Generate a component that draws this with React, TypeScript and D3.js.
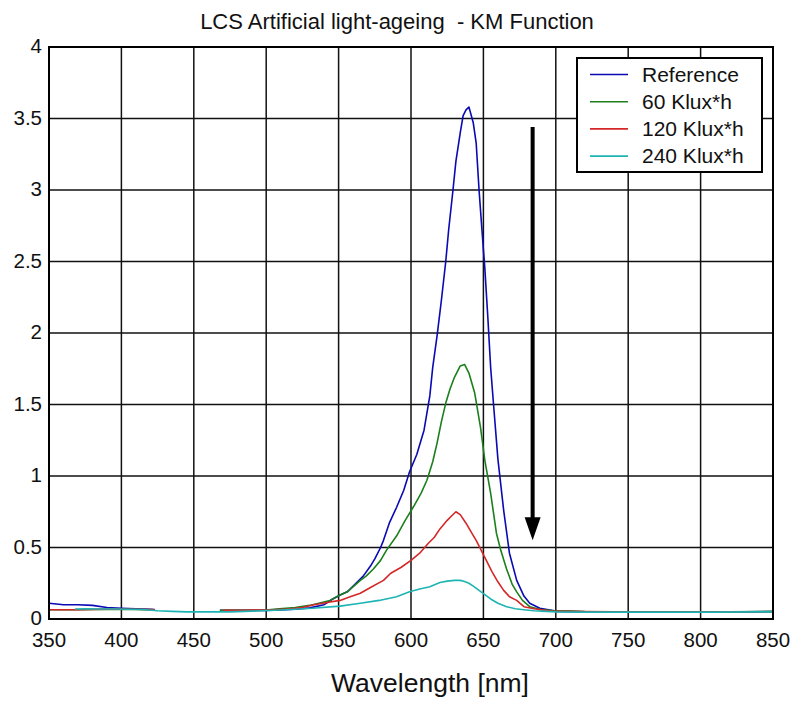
import React from "react";
import * as d3 from "d3";

const title = "LCS Artificial light-ageing  - KM Function";
const xLabel = "Wavelength [nm]";
const xTicks = [350, 400, 450, 500, 550, 600, 650, 700, 750, 800, 850];
const yTicks = [0, 0.5, 1, 1.5, 2, 2.5, 3, 3.5, 4];
const yTickLabels = ["0", "0.5", "1", "1.5", "2", "2.5", "3", "3.5", "4"];

const seriesNames = ["Reference", "60 Klux*h", "120 Klux*h", "240 Klux*h"];
const seriesColors = ["#0a0ab4", "#1c7f1c", "#d42828", "#1eb4b4"];

// null marks a gap in the measured data
const refWl = [350, 355, 360, 370, 380, 390, 400, 410, 420, 423, null, 468, 480, 490, 500, 510, 520, 530, 540, 546, 551, 556, 562, 567, 572, 575, 579, 581, 585, 590, 595, 599, 604, 609, 613, 615, 618, 621, 624, 626, 629, 631, 634, 636, 638, 640, 643, 645, 647, 649, 651, 653, 655, 657, 660, 664, 668, 673, 678, 682, 689, 696, 700, 720, 750, 780, 800, 830, 850];
const refVal = [0.11, 0.105, 0.1, 0.1, 0.095, 0.08, 0.075, 0.072, 0.068, 0.066, null, 0.06, 0.06, 0.06, 0.06, 0.063, 0.068, 0.078, 0.1, 0.14, 0.168, 0.19, 0.25, 0.3, 0.37, 0.42, 0.5, 0.55, 0.67, 0.78, 0.9, 1.03, 1.15, 1.32, 1.56, 1.76, 1.98, 2.23, 2.5, 2.72, 3.0, 3.2, 3.4, 3.52, 3.56, 3.58, 3.47, 3.33, 3.0, 2.72, 2.45, 2.12, 1.76, 1.5, 1.12, 0.76, 0.46, 0.27, 0.16, 0.11, 0.075, 0.063, 0.055, 0.05, 0.05, 0.05, 0.05, 0.05, 0.052];

const k60Wl = [350, 370, 390, 410, 423, null, 468, 480, 490, 500, 507, 520, 530, 544, 551, 556, 565, 569, 574, 579, 583, 590, 596, 602, 607, 611, 615, 618, 621, 624, 627, 630, 634, 637, 640, 644, 648, 651, 655, 659, 662, 666, 670, 673, 677, 682, 690, 696, 700, 710, 720, 740, 780, 820, 850];
const k60Val = [0.065, 0.065, 0.068, 0.066, 0.064, null, 0.06, 0.06, 0.06, 0.062, 0.07, 0.08, 0.095, 0.13, 0.168, 0.19, 0.27, 0.3, 0.35, 0.41, 0.48, 0.58, 0.69, 0.79, 0.88, 0.97, 1.1, 1.23, 1.38, 1.51, 1.61, 1.69, 1.77, 1.78, 1.72, 1.58, 1.34, 1.11, 0.88, 0.6, 0.48, 0.35, 0.24, 0.19, 0.13, 0.086, 0.065, 0.06, 0.055, 0.056, 0.052, 0.05, 0.05, 0.05, 0.053];

const k120Wl = [350, 360, 370, 380, 390, 400, 410, 420, 423, null, 470, 483, 496, 505, 515, 525, 532, 542, 551, 558, 565, 572, 581, 586, 593, 600, 606, 612, 616, 620, 625, 628, 631, 634, 638, 642, 645, 648, 652, 656, 660, 664, 668, 673, 678, 685, 691, 700, 740, 800, 850];
const k120Val = [0.065, 0.065, 0.065, 0.067, 0.068, 0.068, 0.068, 0.066, 0.064, null, 0.06, 0.06, 0.063, 0.065, 0.07, 0.08, 0.098, 0.115, 0.13, 0.155, 0.18, 0.22, 0.27, 0.32, 0.36, 0.41, 0.46, 0.53, 0.57, 0.63, 0.69, 0.72, 0.75, 0.73, 0.67, 0.6, 0.55, 0.49, 0.41, 0.33, 0.26, 0.2, 0.156, 0.13, 0.086, 0.072, 0.063, 0.053, 0.05, 0.05, 0.05];

const k240Wl = [368, 375, 385, 395, 405, 415, 425, 435, 445, 455, 465, 475, 490, 510, 532, 551, 565, 578, 590, 599, 606, 613, 620, 625, 630, 634, 637, 640, 643, 647, 651, 655, 660, 666, 672, 678, 685, 690, 700, 720, 750, 780, 810, 840, 850];
const k240Val = [0.07, 0.072, 0.07, 0.07, 0.068, 0.066, 0.058, 0.053, 0.05, 0.05, 0.05, 0.05, 0.055, 0.063, 0.075, 0.09, 0.11, 0.13, 0.156, 0.19, 0.21, 0.226, 0.255, 0.265, 0.27, 0.27, 0.262, 0.25, 0.23, 0.2, 0.17, 0.14, 0.11, 0.086, 0.072, 0.065, 0.058, 0.055, 0.05, 0.048, 0.048, 0.048, 0.048, 0.05, 0.05];

const seriesWl = [refWl, k60Wl, k120Wl, k240Wl];
const seriesVal = [refVal, k60Val, k120Val, k240Val];

// arrow annotation (wavelength, top value, tip value)
const arrowWl = 684;
const arrowTop = 3.44;
const arrowTip = 0.55;

const W = 798;
const H = 701;
const M = { left: 49, right: 25, top: 47, bottom: 82 };
const FONT = "Liberation Sans, Arial, sans-serif";

export default function App() {
  const x = d3.scaleLinear().domain([350, 850]).range([M.left, W - M.right]);
  const y = d3.scaleLinear().domain([0, 4]).range([H - M.bottom, M.top]);

  const line = d3
    .line<[number | null, number | null]>()
    .defined((d) => d[0] != null && d[1] != null)
    .x((d) => x(d[0] as number))
    .y((d) => y(d[1] as number));

  const paths = seriesWl.map((wl, i) =>
    line(wl.map((w, j) => [w, seriesVal[i][j]] as [number | null, number | null]))
  );

  const ax = x(arrowWl);
  const aTop = y(arrowTop);
  const aTip = y(arrowTip);
  const headH = 23;
  const headW = 8;

  const legX = 577;
  const legY = 58;
  const legW = 185;
  const legH = 114;

  return (
    <svg
      width={W}
      height={H}
      style={{ position: "absolute", left: 0, top: 0, background: "#fff" }}
      fontFamily={FONT}
    >
      <rect x={0} y={0} width={W} height={H} fill="#fff" />
      <text x={397} y={29} textAnchor="middle" fontSize={22} fill="#111" style={{ whiteSpace: "pre" }}>
        {title}
      </text>
      {/* grid */}
      {xTicks.map((t) => (
        <line key={"gx" + t} x1={x(t)} x2={x(t)} y1={y(0)} y2={y(4)} stroke="#111" strokeWidth={1.5} />
      ))}
      {yTicks.map((t) => (
        <line key={"gy" + t} x1={x(350)} x2={x(850)} y1={y(t)} y2={y(t)} stroke="#111" strokeWidth={1.5} />
      ))}
      {/* series */}
      {paths.map((p, i) => (
        <path key={"s" + i} d={p || ""} fill="none" stroke={seriesColors[i]} strokeWidth={1.6} strokeLinejoin="round" />
      ))}
      {/* frame */}
      <rect x={x(350)} y={y(4)} width={x(850) - x(350)} height={y(0) - y(4)} fill="none" stroke="#000" strokeWidth={2} />
      {/* tick labels */}
      {yTicks.map((t, i) => (
        <text key={"yl" + t} x={42} y={y(t) + 6} textAnchor="end" fontSize={20.5} fill="#111">
          {yTickLabels[i]}
        </text>
      ))}
      {xTicks.map((t) => (
        <text key={"xl" + t} x={x(t)} y={647} textAnchor="middle" fontSize={20.5} fill="#111">
          {t}
        </text>
      ))}
      <text x={430} y={692} textAnchor="middle" fontSize={26.5} fill="#111">
        {xLabel}
      </text>
      {/* arrow */}
      <line x1={ax} x2={ax} y1={aTop} y2={aTip - headH + 2} stroke="#000" strokeWidth={4} />
      <path d={`M${ax - headW},${aTip - headH} L${ax + headW},${aTip - headH} L${ax},${aTip} Z`} fill="#000" />
      {/* legend */}
      <rect x={legX} y={legY} width={legW} height={legH} fill="#fff" stroke="#000" strokeWidth={2} />
      {seriesNames.map((n, i) => (
        <g key={"lg" + i}>
          <line x1={590} x2={628} y1={74.5 + i * 27.2} y2={74.5 + i * 27.2} stroke={seriesColors[i]} strokeWidth={1.6} />
          <text x={642} y={81.5 + i * 27.2} fontSize={21} fill="#111">
            {n}
          </text>
        </g>
      ))}
    </svg>
  );
}
